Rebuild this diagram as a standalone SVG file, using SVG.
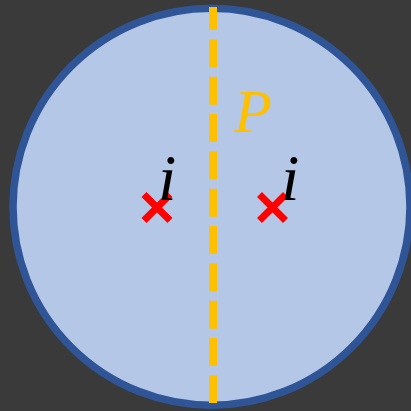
<svg xmlns="http://www.w3.org/2000/svg" width="411" height="411" viewBox="0 0 411 411">
<style>
.x{stroke:#ff0000;stroke-width:7;fill:none}
.t{font-family:"Liberation Serif","Times New Roman",serif;font-style:italic}
</style>
<rect width="411" height="411" fill="#3a3a3a"/>
<g id="disk"><circle cx="211.5" cy="206.75" r="198.5" fill="#b4c7e7" stroke="#2f5597" stroke-width="7.5"/></g>
<g id="connectors"><line x1="213" y1="7" x2="213" y2="403" stroke="#ffc000" stroke-width="8" stroke-dasharray="28 9.33" stroke-dashoffset="5"/></g>
<g id="label-P"><text class="t" x="234" y="132" font-size="62" fill="#ffc000">P</text></g>
<g id="point-left"><path class="x" d="M144 194.5L170 220.5M170 194.5L144 220.5"/><text class="t" x="158" y="200" font-size="66" fill="#000">i</text></g>
<g id="point-right"><path class="x" d="M259.5 194.5L285.5 220.5M285.5 194.5L259.5 220.5"/><text class="t" x="281" y="200" font-size="66" fill="#000">i</text></g>
</svg>
